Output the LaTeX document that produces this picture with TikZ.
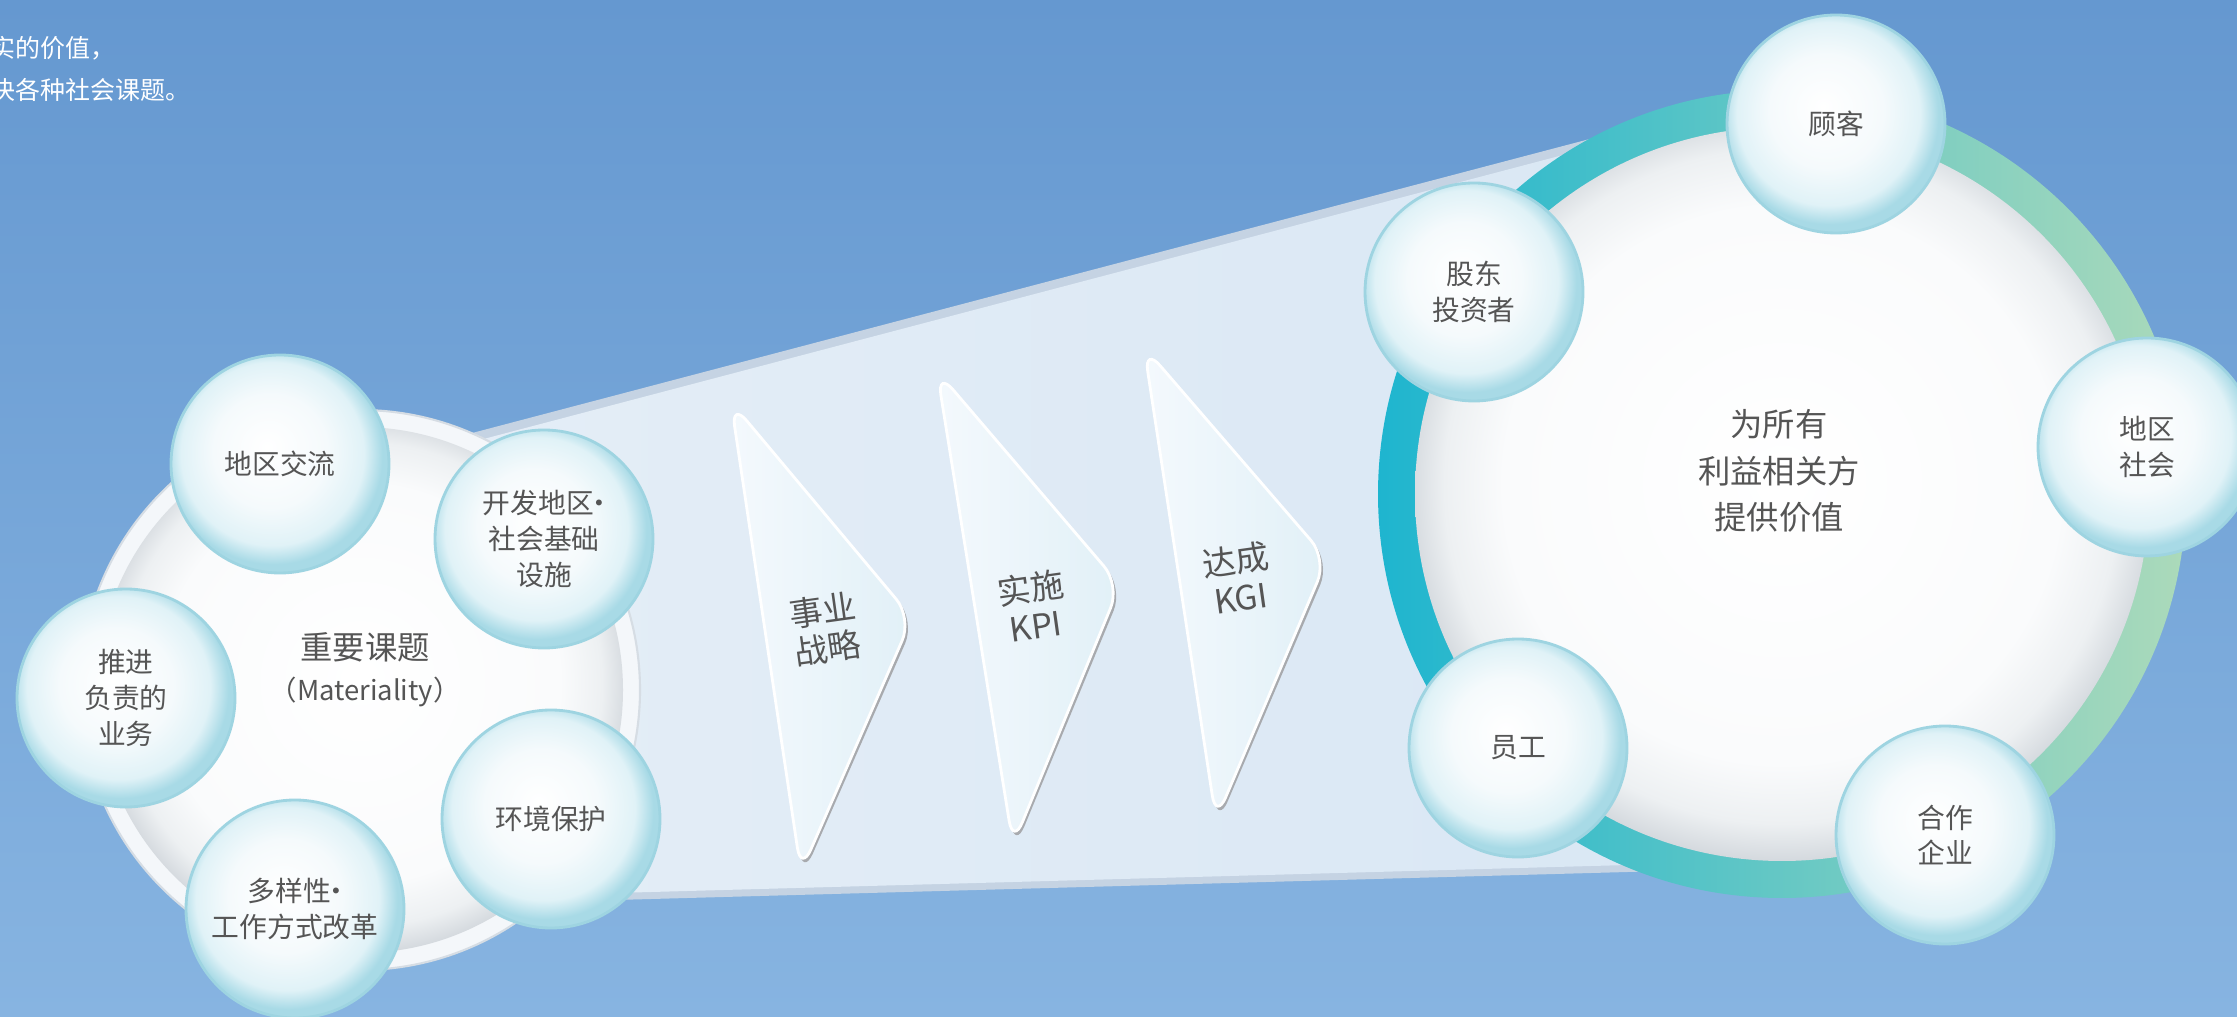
\documentclass[tikz,border=0pt]{standalone}
\usepackage{fontspec}
\newfontfamily\cjk{Noto Sans CJK SC}
\definecolor{bgtop}{RGB}{101,152,208}
\definecolor{bgbottom}{RGB}{135,180,225}
\definecolor{bandleft}{RGB}{229,238,247}
\definecolor{bandright}{RGB}{217,231,244}
\definecolor{bandedge}{RGB}{197,211,227}
\definecolor{ringteal}{RGB}{30,181,207}
\definecolor{ringgreen}{RGB}{172,218,186}
\definecolor{discin}{RGB}{250,251,252}
\definecolor{discmid}{RGB}{237,240,242}
\definecolor{discedge}{RGB}{212,217,222}
\definecolor{rimcolor}{RGB}{244,247,250}
\definecolor{rimline}{RGB}{214,221,228}
\definecolor{bubblein}{RGB}{245,250,252}
\definecolor{bubblemid}{RGB}{224,242,247}
\definecolor{bubbleedge}{RGB}{168,218,230}
\definecolor{bubbleline}{RGB}{158,212,225}
\definecolor{trileft}{RGB}{244,249,253}
\definecolor{triright}{RGB}{225,240,247}
\definecolor{trishadow}{RGB}{168,170,174}
\definecolor{labelcolor}{RGB}{85,85,85}
\pgfdeclareradialshading{bubble}{\pgfpoint{-3bp}{4bp}}{%
  color(0bp)=(white); color(13bp)=(bubblein); color(21bp)=(bubblemid);
  color(25bp)=(bubbleedge); color(50bp)=(bubbleedge)}
\pgfdeclareradialshading{disc}{\pgfpoint{0bp}{1bp}}{%
  color(0bp)=(white); color(19bp)=(discin); color(23bp)=(discmid);
  color(25.5bp)=(discedge); color(50bp)=(discedge)}
\newcommand{\middot}{\kern-0.3em·\kern-0.3em}
\tikzset{
bubble/.style={
  circle,
  draw=bubbleline,
  line width=0.8pt,
  shade,
  shading=bubble,
  minimum size=2.18cm,
  inner sep=0pt,
  align=center,
  text=labelcolor,
  font=\cjk\fontsize{7.9}{10.2}\selectfont
},
disclabel/.style={
  align=center,
  text=labelcolor,
  font=\cjk\fontsize{9.2}{13.2}\selectfont
},
steplabel/.style={
  align=center,
  text=labelcolor,
  rotate=8,
  font=\cjk\fontsize{9.5}{11}\selectfont
},
tristep/.style={
  left color=trileft,
  right color=triright,
  draw=white,
  line width=0.8pt,
  rounded corners=7pt
},
introtext/.style={
  align=left,
  inner sep=0pt,
  text=white,
  font=\cjk\fontsize{7.1}{12}\selectfont
}
}
\begin{document}
\begin{tikzpicture}
  \useasboundingbox (0,0) rectangle (22.37,10.16);
  \clip (0,0) rectangle (22.37,10.16);

  % background
  \shade[top color=bgtop, bottom color=bgbottom] (0,0) rectangle (22.37,10.16);

  % intro text (cut at the left)
  \node[introtext, anchor=west] (intro) at (-0.10,9.47) {实的价值，\\决各种社会课题。};

  % band between the two circles
  \fill[bandedge] (3.62,5.54) -- (17.00,9.06) -- (17.00,1.46) -- (3.62,1.09) -- cycle;
  \shade[left color=bandleft, right color=bandright]
    (3.62,5.45) -- (17.00,8.97) -- (17.00,1.53) -- (3.62,1.16) -- cycle;

  % stakeholder ring
  \shade[left color=ringteal, right color=ringgreen] (17.82,5.22) circle[radius=4.04cm];
  \shade[shading=disc] (17.82,5.22) circle[radius=3.67cm];

  % materiality disc
  \filldraw[fill=rimcolor, draw=rimline, line width=0.6pt] (3.60,3.26) circle[radius=2.80cm];
  \shade[shading=disc] (3.60,3.26) circle[radius=2.63cm];

  % steps
  \foreach \ax/\ay/\bx/\by/\cx/\cy in {7.31/6.14/9.12/3.98/8.01/1.44,
                                        9.37/6.45/11.20/4.31/10.13/1.71,
                                        11.44/6.69/13.27/4.57/12.16/1.96} {
    \fill[trishadow, rounded corners=7pt] (\ax+0.02,\ay-0.02) -- (\bx+0.03,\by-0.03) -- (\cx+0.02,\cy-0.04) -- cycle;
    \shadedraw[tristep] (\ax,\ay) -- (\bx,\by) -- (\cx,\cy) -- cycle;
  }
  \node[steplabel] (strategy) at (8.25,3.87) {事业\\战略};
  \node[steplabel] (kpi) at (10.33,4.10) {实施\\KPI};
  \node[steplabel] (kgi) at (12.38,4.38) {达成\\KGI};

  % center labels
  \node[disclabel] (materiality) at (3.65,3.46)
    {重要课题\\[-1.5pt]{\fontsize{7.8}{10}\selectfont （Materiality）}};
  \node[disclabel] (value) at (17.79,5.45) {为所有\\利益相关方\\提供价值};

  % materiality topics
  \node[bubble] (exchange) at (2.80,5.52) {地区交流};
  \node[bubble] (infra) at (5.44,4.77) {开发地区\middot\\社会基础\\设施};
  \node[bubble] (business) at (1.26,3.18) {推进\\负责的\\业务};
  \node[bubble] (environment) at (5.51,1.97) {环境保护};
  \node[bubble] (diversity) at (2.95,1.07) {多样性\middot\\工作方式改革};

  % stakeholders
  \node[bubble] (customer) at (18.36,8.92) {顾客};
  \node[bubble] (investor) at (14.74,7.24) {股东\\投资者};
  \node[bubble] (community) at (21.47,5.69) {地区\\社会};
  \node[bubble] (staff) at (15.18,2.68) {员工};
  \node[bubble] (partner) at (19.45,1.81) {合作\\企业};
\end{tikzpicture}
\end{document}
